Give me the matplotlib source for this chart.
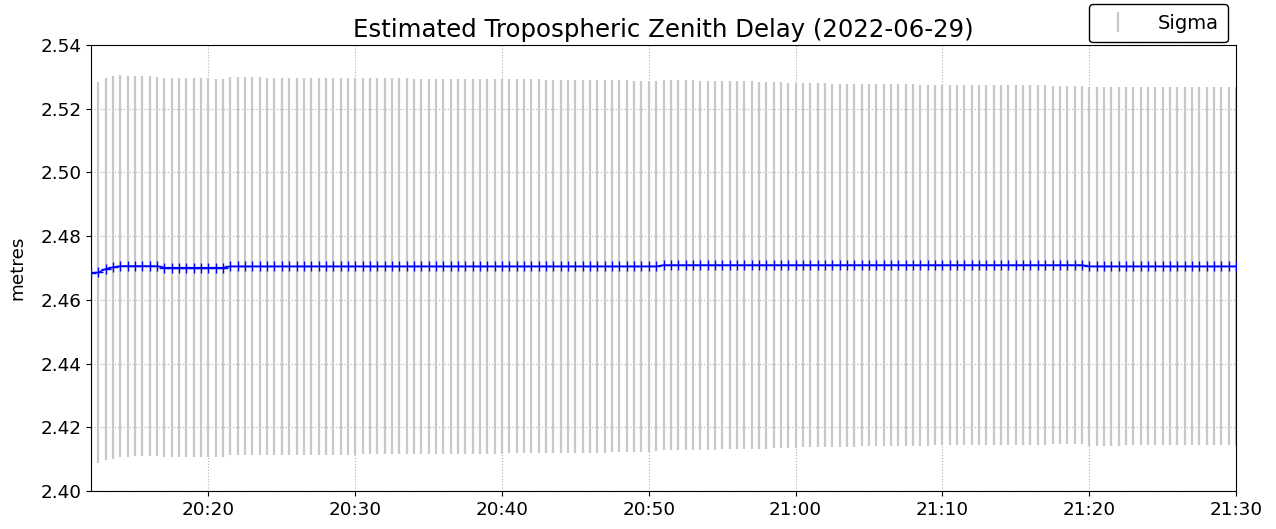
import matplotlib
matplotlib.use("Agg")
import matplotlib.pyplot as plt
import matplotlib.dates as mdates
import pandas as pd

start_time = "2022-06-29 20:12:00"
n_epochs = 157
epoch_interval = "30s"

ztd = [
    2.4685, 2.4686, 2.4697, 2.4702, 2.4706, 2.4706, 2.4706, 2.4706, 2.4706, 2.4706,
    2.4701, 2.4701, 2.4701, 2.4701, 2.4701, 2.4701, 2.4701, 2.4701, 2.4701, 2.4705,
    2.4705, 2.4705, 2.4705, 2.4705, 2.4705, 2.4705, 2.4705, 2.4705, 2.4705, 2.4705,
    2.4705, 2.4705, 2.4705, 2.4705, 2.4705, 2.4705, 2.4705, 2.4705, 2.4705, 2.4705,
    2.4705, 2.4705, 2.4705, 2.4705, 2.4705, 2.4705, 2.4705, 2.4705, 2.4705, 2.4705,
    2.4705, 2.4705, 2.4705, 2.4705, 2.4705, 2.4705, 2.4705, 2.4705, 2.4705, 2.4705,
    2.4705, 2.4705, 2.4705, 2.4705, 2.4705, 2.4705, 2.4705, 2.4705, 2.4705, 2.4705,
    2.4705, 2.4705, 2.4705, 2.4705, 2.4705, 2.4705, 2.4705, 2.4705, 2.4709, 2.4709,
    2.4709, 2.4709, 2.4709, 2.4709, 2.4709, 2.4709, 2.4709, 2.4709, 2.4709, 2.4709,
    2.4709, 2.4709, 2.4709, 2.4709, 2.4709, 2.4709, 2.4709, 2.4709, 2.4709, 2.4709,
    2.4709, 2.4709, 2.4709, 2.4709, 2.4709, 2.4709, 2.4709, 2.4709, 2.4709, 2.4709,
    2.4709, 2.4709, 2.4709, 2.4709, 2.4709, 2.4709, 2.4709, 2.4709, 2.4709, 2.4709,
    2.4709, 2.4709, 2.4709, 2.4709, 2.4709, 2.4709, 2.4709, 2.4709, 2.4709, 2.4709,
    2.4709, 2.4709, 2.4709, 2.4709, 2.4709, 2.4709, 2.4705, 2.4705, 2.4705, 2.4705,
    2.4705, 2.4705, 2.4705, 2.4705, 2.4705, 2.4705, 2.4705, 2.4705, 2.4705, 2.4705,
    2.4705, 2.4705, 2.4705, 2.4705, 2.4705, 2.4705, 2.4705,
]

sigma = [
    0.0598, 0.0597, 0.0599, 0.0600, 0.0599, 0.0598, 0.0597, 0.0596, 0.0596, 0.0595,
    0.0594, 0.0594, 0.0594, 0.0594, 0.0594, 0.0594, 0.0594, 0.0593, 0.0593, 0.0593,
    0.0593, 0.0593, 0.0593, 0.0593, 0.0592, 0.0592, 0.0592, 0.0592, 0.0592, 0.0592,
    0.0592, 0.0591, 0.0591, 0.0591, 0.0591, 0.0591, 0.0591, 0.0590, 0.0590, 0.0590,
    0.0590, 0.0590, 0.0590, 0.0590, 0.0589, 0.0589, 0.0589, 0.0589, 0.0589, 0.0589,
    0.0589, 0.0588, 0.0588, 0.0588, 0.0588, 0.0588, 0.0588, 0.0587, 0.0587, 0.0587,
    0.0587, 0.0587, 0.0586, 0.0586, 0.0586, 0.0586, 0.0586, 0.0585, 0.0585, 0.0585,
    0.0585, 0.0584, 0.0584, 0.0584, 0.0583, 0.0583, 0.0583, 0.0581, 0.0581, 0.0581,
    0.0580, 0.0580, 0.0580, 0.0579, 0.0579, 0.0579, 0.0578, 0.0578, 0.0578, 0.0577,
    0.0577, 0.0576, 0.0576, 0.0575, 0.0575, 0.0573, 0.0573, 0.0571, 0.0571, 0.0571,
    0.0571, 0.0570, 0.0570, 0.0570, 0.0570, 0.0569, 0.0569, 0.0569, 0.0569, 0.0568,
    0.0568, 0.0568, 0.0568, 0.0567, 0.0567, 0.0566, 0.0566, 0.0565, 0.0565, 0.0565,
    0.0565, 0.0565, 0.0565, 0.0565, 0.0564, 0.0564, 0.0564, 0.0564, 0.0564, 0.0564,
    0.0564, 0.0563, 0.0563, 0.0563, 0.0563, 0.0563, 0.0563, 0.0563, 0.0563, 0.0563,
    0.0563, 0.0562, 0.0562, 0.0562, 0.0562, 0.0562, 0.0562, 0.0562, 0.0562, 0.0562,
    0.0562, 0.0562, 0.0562, 0.0562, 0.0562, 0.0562, 0.0562,
]

y_ticks = [2.40, 2.42, 2.44, 2.46, 2.48, 2.50, 2.52, 2.54]
title = "Estimated Tropospheric Zenith Delay (2022-06-29)"

times = pd.date_range(start_time, periods=n_epochs, freq=epoch_interval)

fig = plt.figure(figsize=(12.76, 5.29), dpi=100)
ax = fig.add_axes([91 / 1276, 1 - 491 / 529, (1236 - 91) / 1276, (491 - 45) / 529])

eb = ax.errorbar(times, ztd, yerr=sigma, fmt="none", ecolor="#c8c8c8",
                 elinewidth=1.6, label="Sigma", zorder=2)
ax.plot(times, ztd, color="blue", marker="+", markersize=6.5, linewidth=1.1,
        zorder=3)

ax.set_xlim(times[0], times[-1])
ax.set_ylim(y_ticks[0], y_ticks[-1])
ax.set_yticks(y_ticks)
ax.yaxis.set_major_formatter(matplotlib.ticker.FormatStrFormatter("%.2f"))
ax.xaxis.set_major_locator(mdates.MinuteLocator(byminute=[0, 10, 20, 30, 40, 50]))
ax.xaxis.set_major_formatter(mdates.DateFormatter("%H:%M"))
ax.tick_params(labelsize=13.2)
ax.grid(True, linestyle=":", color="#b0b0b0", linewidth=0.8, zorder=0)
ax.set_axisbelow(True)
ax.set_ylabel("metres", fontsize=13.2, labelpad=10)
ax.set_title(title, fontsize=17.6, pad=6)

fig.legend(handles=[eb], labels=["Sigma"], loc="upper right",
           bbox_to_anchor=(1228 / 1276, 1 - 4 / 529), fontsize=14,
           borderaxespad=0, borderpad=0.5, handletextpad=1.0,
           frameon=True, edgecolor="black", fancybox=True, framealpha=1)

fig.savefig("out.png", dpi=100)
